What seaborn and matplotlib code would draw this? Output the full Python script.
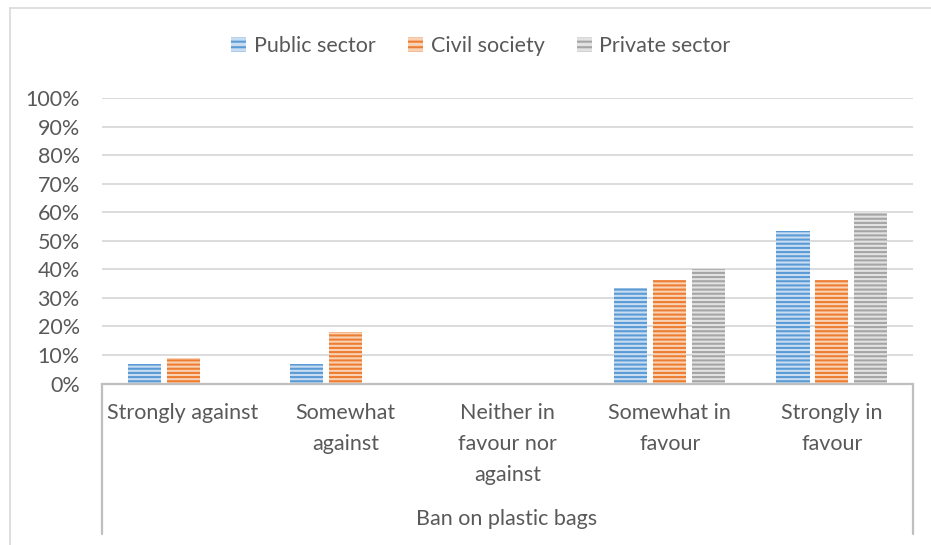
import matplotlib
matplotlib.use("Agg")
import matplotlib.pyplot as plt
from matplotlib.patches import Patch
from matplotlib.lines import Line2D
from matplotlib.ticker import PercentFormatter
import pandas as pd
import seaborn as sns

# Survey shares by stakeholder group
categories = ["Strongly against", "Somewhat against", "Neither in favour nor against",
              "Somewhat in favour", "Strongly in favour"]
tick_labels = ["Strongly against", "Somewhat\nagainst", "Neither in\nfavour nor\nagainst",
               "Somewhat in\nfavour", "Strongly in\nfavour"]
sectors = ["Public sector", "Civil society", "Private sector"]
public_sector = [1/15, 1/15, 0.0, 5/15, 8/15]
civil_society = [1/11, 2/11, 0.0, 4/11, 4/11]
private_sector = [0.0, 0.0, 0.0, 2/5, 3/5]
outer_label = "Ban on plastic bags"

main_colors = ["#5B9BD5", "#ED7D31", "#A5A5A5"]
light_colors = ["#C9DDF2", "#F9D2B6", "#E2E2E2"]
text_color = "#595959"
axis_color = "#BFBFBF"
grid_color = "#D9D9D9"

df = pd.DataFrame({
    "category": categories * 3,
    "share": public_sector + civil_society + private_sector,
    "sector": [s for s in sectors for _ in categories],
})

sns.set_theme(style="white")
plt.rcParams["font.family"] = ["Lato", "DejaVu Sans"]
plt.rcParams["hatch.linewidth"] = 1.5

FS = 15.5
W, H = 931, 545
fig = plt.figure(figsize=(W / 100, H / 100), dpi=100)
fig.patch.set_facecolor("white")

left, right, top, bottom = 102, 913, 98, 383.5
ax = fig.add_axes([left / W, 1 - bottom / H, (right - left) / W, (bottom - top) / H])

sns.barplot(data=df, x="category", y="share", hue="sector", order=categories,
            hue_order=sectors, palette=main_colors, width=0.72, gap=0.15,
            dodge=True, legend=False, ax=ax, errorbar=None)

for cont, mc, lc in zip(ax.containers, main_colors, light_colors):
    for bar in cont:
        bar.set_facecolor(lc)
        bar.set_edgecolor(mc)
        bar.set_linewidth(0)
        bar.set_hatch("----")

ax.set_ylim(0, 1)
ax.set_xlim(-0.5, len(categories) - 0.5)
ax.yaxis.set_major_locator(plt.MultipleLocator(0.1))
ax.yaxis.set_major_formatter(PercentFormatter(1.0, decimals=0))
ax.set_axisbelow(True)
ax.yaxis.grid(True, color=grid_color, linewidth=1.3)
ax.xaxis.grid(False)
for side in ["top", "right", "left"]:
    ax.spines[side].set_visible(False)
ax.spines["bottom"].set_color(axis_color)
ax.spines["bottom"].set_linewidth(1.6)

ax.set_xlabel("")
ax.set_ylabel("")
ax.set_xticks(range(len(categories)))
ax.set_xticklabels(tick_labels, fontsize=FS, color=text_color, linespacing=1.68, va="top")
ax.tick_params(axis="x", length=0, pad=14)
ax.tick_params(axis="y", length=0, pad=16, labelsize=FS, labelcolor=text_color)

# Outer category level with its bracket lines
fig.text(507 / W, 1 - 519 / H, outer_label, ha="center", va="center",
         fontsize=FS, color=text_color)
for x in (left, right):
    fig.add_artist(Line2D([x / W, x / W], [1 - bottom / H, 1 - 534 / H],
                          transform=fig.transFigure, color=axis_color, linewidth=1.6))

# Chart frame
fig.add_artist(Line2D([10 / W, 1.0], [1 - 8 / H, 1 - 8 / H], transform=fig.transFigure,
                      color="#D9D9D9", linewidth=1.2))
fig.add_artist(Line2D([10 / W, 10 / W], [1 - 8 / H, 0.0], transform=fig.transFigure,
                      color="#D9D9D9", linewidth=1.2))

handles = [Patch(facecolor=lc, edgecolor=mc, linewidth=0, hatch="---")
           for mc, lc in zip(main_colors, light_colors)]
fig.legend(handles, sectors, loc="center", bbox_to_anchor=(481 / W, 1 - 46 / H),
           ncol=3, frameon=False, fontsize=FS, labelcolor=text_color,
           handlelength=0.7, handleheight=0.7, handletextpad=0.35, columnspacing=1.5)

fig.savefig("out.png", dpi=100, facecolor="white")
